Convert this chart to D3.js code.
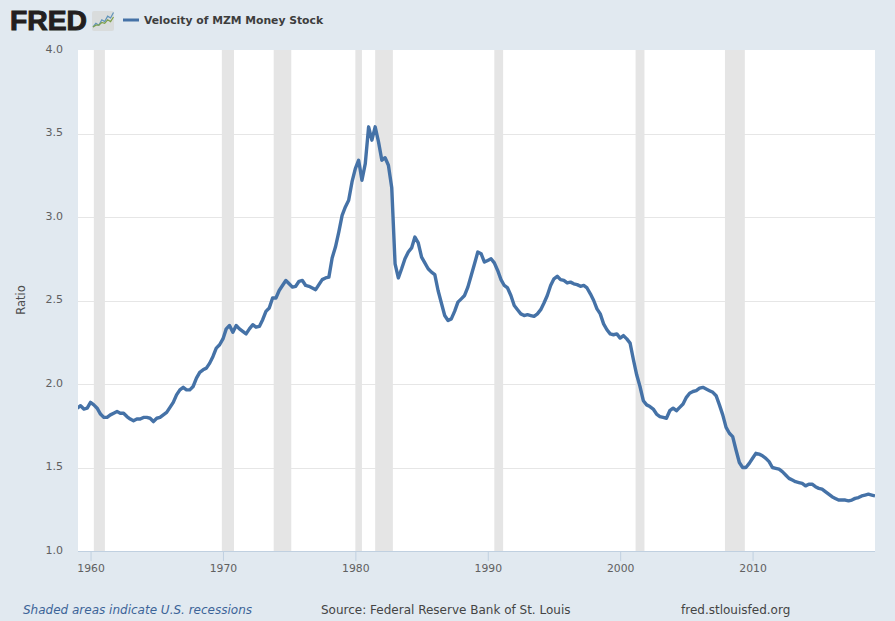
<!DOCTYPE html>
<html><head><meta charset="utf-8">
<script src="https://cdn.jsdelivr.net/npm/d3@7/dist/d3.min.js"></script>
<style>html,body{margin:0;padding:0;background:#e1e9f0}svg{display:block}text{font-family:"DejaVu Sans",sans-serif}</style>
</head><body><svg id="c" width="895" height="621"></svg>
<script>
const firstYear = 1959;
const seriesName = "Velocity of MZM Money Stock";
const velocity = [
1.855,1.87,1.85,1.855, 1.89,1.875,1.855,1.82, 1.80,1.80,1.815,1.825, 1.835,1.825,1.825,1.805,
1.79,1.78,1.79,1.79, 1.80,1.80,1.795,1.775, 1.795,1.80,1.815,1.83, 1.86,1.89,1.935,1.965,
1.98,1.965,1.965,1.985, 2.035,2.07,2.085,2.095, 2.125,2.165,2.215,2.235, 2.27,2.33,2.35,2.31,
2.35,2.33,2.315,2.30, 2.33,2.355,2.34,2.345, 2.385,2.435,2.455,2.515, 2.515,2.56,2.59,2.62,
2.60,2.58,2.585,2.615, 2.62,2.59,2.585,2.575, 2.565,2.595,2.625,2.635, 2.64,2.755,2.82,2.91,
3.01,3.06,3.10,3.21, 3.29,3.34,3.22,3.32, 3.54,3.46,3.54,3.45, 3.34,3.355,3.31,3.175,
2.72,2.635,2.69,2.75, 2.79,2.815,2.88,2.845, 2.76,2.725,2.69,2.67, 2.655,2.56,2.485,2.41,
2.38,2.39,2.435,2.49, 2.51,2.53,2.58,2.65, 2.72,2.79,2.78,2.73, 2.74,2.75,2.725,2.68,
2.625,2.59,2.575,2.53, 2.47,2.445,2.42,2.41, 2.415,2.41,2.405,2.42, 2.445,2.485,2.53,2.59,
2.63,2.645,2.625,2.62, 2.605,2.61,2.60,2.595, 2.585,2.59,2.575,2.54, 2.50,2.45,2.42,2.36,
2.325,2.30,2.295,2.30, 2.275,2.29,2.27,2.245, 2.145,2.055,1.985,1.90, 1.875,1.865,1.85,1.82,
1.805,1.80,1.795,1.84, 1.855,1.84,1.86,1.88, 1.92,1.945,1.955,1.96, 1.975,1.98,1.97,1.96,
1.95,1.93,1.875,1.815, 1.74,1.705,1.685,1.605, 1.53,1.50,1.50,1.525, 1.555,1.585,1.58,1.57,
1.555,1.535,1.50,1.495, 1.49,1.475,1.455,1.435, 1.425,1.415,1.41,1.405, 1.39,1.40,1.40,1.385,
1.375,1.37,1.355,1.34, 1.325,1.315,1.305,1.305, 1.305,1.30,1.305,1.315, 1.32,1.33,1.335,1.34,
1.335,1.33];
const recessionStarts = ["1960-04-01","1969-12-01","1973-11-01","1980-01-01","1981-07-01","1990-07-01","2001-03-01","2007-12-01"];
const recessionEnds   = ["1961-02-01","1970-11-01","1975-03-01","1980-07-01","1982-11-01","1991-03-01","2001-11-01","2009-06-01"];
const yTicks = [1.0,1.5,2.0,2.5,3.0,3.5,4.0];
const xTickYears = [1960,1970,1980,1990,2000,2010];
const logoLineBlue = [0,2,1,4,3,6,5,8];
const logoLineGreen = [0,1,1,2.5,2,4,3,5.5];

const dates = velocity.map((_, i) => new Date(Date.UTC(firstYear, i * 3, 1)));
const svg = d3.select("#c");
const M = {l:78, r:875, t:50, b:551};
const x = d3.scaleUtc().domain([dates[0], dates[dates.length-1]]).range([77.3, 875]);
const y = d3.scaleLinear().domain([1,4]).range([M.b, M.t]);

svg.append("rect").attr("width",895).attr("height",621).attr("fill","#e1e9f0");
svg.append("clipPath").attr("id","plot").append("rect").attr("x",M.l).attr("y",M.t).attr("width",M.r-M.l).attr("height",M.b-M.t);
svg.append("rect").attr("x",M.l).attr("y",M.t).attr("width",M.r-M.l).attr("height",M.b-M.t).attr("fill","#fff");

// gridlines
svg.append("g").selectAll("line").data(yTicks.filter(v=>v>1&&v<4)).join("line")
  .attr("x1",M.l).attr("x2",M.r).attr("y1",d=>Math.round(y(d))+.5).attr("y2",d=>Math.round(y(d))+.5)
  .attr("stroke","#e6e6e6").attr("stroke-width",1);

// recessions
svg.append("g").attr("clip-path","url(#plot)").selectAll("rect").data(recessionStarts).join("rect")
  .attr("x",d=>x(new Date(d))).attr("width",(d,i)=>x(new Date(recessionEnds[i]))-x(new Date(d)))
  .attr("y",M.t).attr("height",M.b-M.t).attr("fill","#e5e5e5");

// y axis
const yAxis = d3.axisLeft(y).tickValues(yTicks).tickFormat(d3.format(".1f")).tickSize(0).tickPadding(15);
const gy = svg.append("g").attr("transform",`translate(${M.l},0)`).call(yAxis);
gy.select(".domain").remove();
gy.selectAll("text").attr("font-size",11).attr("fill","#606060").attr("dy","0.22em");

// x axis
const xAxis = d3.axisBottom(x).tickValues(xTickYears.map(v=>new Date(Date.UTC(v,0,1)))).tickFormat(d3.utcFormat("%Y")).tickSize(10).tickPadding(3);
const gx = svg.append("g").attr("transform",`translate(0,${M.b})`).call(xAxis);
gx.select(".domain").attr("d",`M${M.l},0.5H${M.r}`).attr("stroke","#c0d0e0");
gx.selectAll("line").attr("stroke","#c0d0e0");
gx.selectAll("text").attr("font-size",10.8).attr("fill","#606060");

// line
const line = d3.line().x((d,i)=>x(dates[i])).y(d=>y(d));
svg.append("path").datum(velocity).attr("clip-path","url(#plot)").attr("d",line)
  .attr("fill","none").attr("stroke","#4572a7").attr("stroke-width",3.4).attr("stroke-linejoin","round");

// y title
svg.append("text").attr("transform","translate(25,300) rotate(-90)").attr("text-anchor","middle")
  .attr("font-size",11.5).attr("fill","#4d4d4d").text("Ratio");

// legend
svg.append("line").attr("x1",123).attr("x2",139).attr("y1",20).attr("y2",20).attr("stroke","#4572a7").attr("stroke-width",3);
svg.append("text").attr("x",144).attr("y",24).attr("font-size",10.8).attr("font-weight","bold").attr("fill","#3d3d3d").text(seriesName);

// logo
svg.append("text").attr("x",10).attr("y",30).attr("font-size",27.5).attr("textLength",77).attr("lengthAdjust","spacingAndGlyphs")
  .style("font-family","'Liberation Sans',sans-serif").attr("font-weight","bold")
  .attr("fill","#231f20").attr("stroke","#231f20").attr("stroke-width",1).text("FRED");
svg.append("rect").attr("x",92).attr("y",11).attr("width",22).attr("height",20).attr("rx",2).attr("fill","#d9dcdc");
const lx = d3.scaleLinear().domain([0,7]).range([93,113.5]);
const ly = d3.scaleLinear().domain([0,8]).range([27,12.5]);
const mini = d3.line().x((d,i)=>lx(i)).y(d=>ly(d));
svg.append("path").attr("d",mini(logoLineBlue)).attr("fill","none").attr("stroke","#5f93ba").attr("stroke-width",1.2);
svg.append("path").attr("d",mini(logoLineGreen)).attr("fill","none").attr("stroke","#7ea04a").attr("stroke-width",1.2);

// footer
svg.append("text").attr("x",23).attr("y",614).attr("font-size",12).attr("font-style","italic").attr("fill","#3c6498").text("Shaded areas indicate U.S. recessions");
svg.append("text").attr("x",321).attr("y",614).attr("font-size",12).attr("fill","#444").text("Source: Federal Reserve Bank of St. Louis");
svg.append("text").attr("x",681).attr("y",614).attr("font-size",12).attr("fill","#444").text("fred.stlouisfed.org");
</script></body></html>
